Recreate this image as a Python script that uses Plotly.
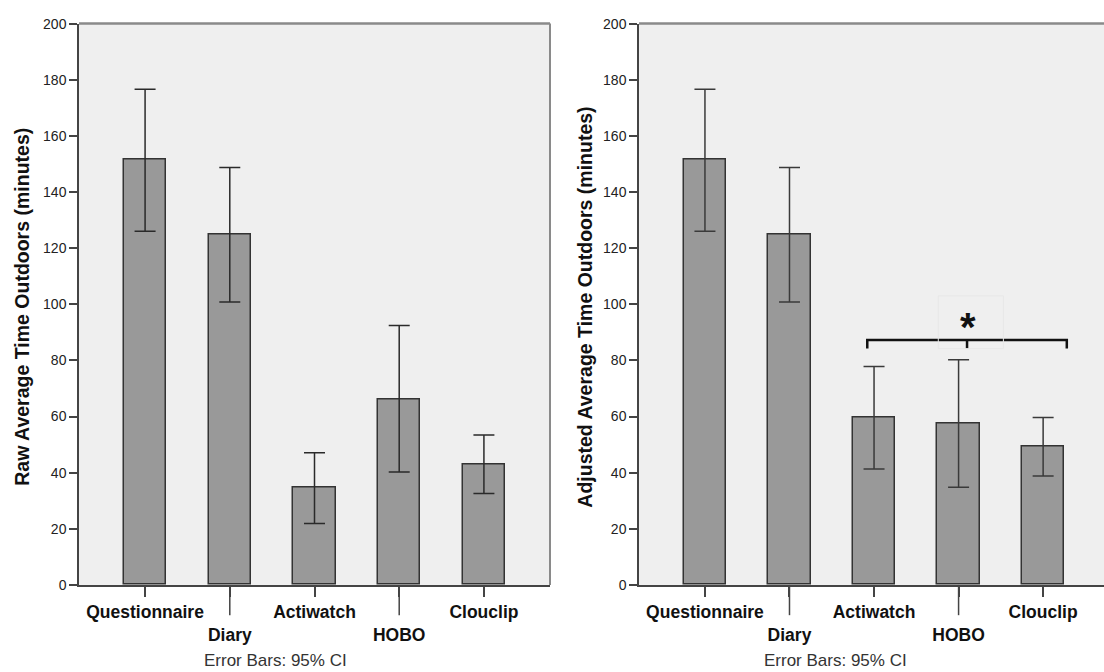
import plotly.graph_objects as go

# ---- data ----
categories = ["Questionnaire", "Diary", "Actiwatch", "HOBO", "Clouclip"]
tick_text = ["Questionnaire", "<br>Diary", "Actiwatch", "<br>HOBO", "Clouclip"]

raw_mean = [151.5, 124.8, 34.5, 66.2, 43.0]
raw_lo = [126.0, 100.8, 21.9, 40.2, 32.6]
raw_hi = [176.6, 148.7, 47.1, 92.4, 53.4]

adj_mean = [151.5, 124.8, 59.6, 57.5, 49.2]
adj_lo = [126.0, 100.8, 41.3, 34.8, 38.8]
adj_hi = [176.6, 148.7, 77.8, 80.2, 59.7]

y_ticks = [0, 20, 40, 60, 80, 100, 120, 140, 160, 180, 200]

left_title = "Raw Average Time Outdoors (minutes)"
right_title = "Adjusted Average Time Outdoors (minutes)"
footnote = "Error Bars: 95% CI"

# significance bracket (right panel), data units
bracket_x = [1.92, 3.10, 4.28]
bracket_y = 87.3
bracket_drop = 84.2

x_pos = list(range(len(categories)))

W, H = 1104, 672
FONT = "Liberation Sans"
BAR_FILL = "#999999"
BAR_LINE = "#333333"
AX_DARK = "#444444"
BORDER = "#8a8a8a"
BG = "#efefef"

fig = go.Figure()


def add_bars(mean, lo, hi, xa, ya, ecolor):
    fig.add_trace(go.Bar(
        x=x_pos, y=mean, xaxis=xa, yaxis=ya, width=0.5,
        marker=dict(color=BAR_FILL, line=dict(color=BAR_LINE, width=1.5)),
        error_y=dict(type="data", symmetric=False,
                     array=[h - m for h, m in zip(hi, mean)],
                     arrayminus=[m - l for m, l in zip(mean, lo)],
                     color=ecolor, thickness=1.5, width=10.5),
        showlegend=False, hoverinfo="skip"))


add_bars(raw_mean, raw_lo, raw_hi, "x", "y", "#2a2a2a")
add_bars(adj_mean, adj_lo, adj_hi, "x2", "y2", "#3a3a3a")

y_top = 1 - 16 / H
y_bot = 1 - 591 / H
tick_font = dict(family=FONT, size=14, color="#222222")
xlab_font = dict(family=FONT, size=17.5, color="#111111", weight="bold")

common_x = dict(tickmode="array", tickvals=x_pos, ticktext=tick_text,
                ticks="outside", ticklen=10, tickwidth=1.5, tickcolor=AX_DARK,
                showline=True, linecolor=AX_DARK, linewidth=2,
                showgrid=False, zeroline=False, tickfont=xlab_font,
                fixedrange=True)
common_y = dict(range=[0, 200], tickmode="array", tickvals=y_ticks,
                ticks="outside", ticklen=8, tickwidth=1.5, tickcolor=AX_DARK,
                showline=True, linecolor=AX_DARK, linewidth=1.5,
                showgrid=False, zeroline=False, tickfont=tick_font,
                fixedrange=True)

fig.update_layout(
    width=W, height=H,
    margin=dict(l=0, r=0, t=0, b=0),
    paper_bgcolor="white", plot_bgcolor=BG,
    bargap=0,
    xaxis=dict(domain=[79 / W, 550 / W], range=[-0.78, 4.78], anchor="y", **common_x),
    yaxis=dict(domain=[y_bot, y_top], anchor="x", **common_y),
    xaxis2=dict(domain=[639 / W, 1.0], range=[-0.78, 4.72], anchor="y2", **common_x),
    yaxis2=dict(domain=[y_bot, y_top], anchor="x2", **common_y),
)

shapes = []
# top / right frame lines (gray)
for xr, yr in (("x domain", "y domain"), ("x2 domain", "y2 domain")):
    shapes.append(dict(type="line", xref=xr, yref=yr, x0=0, x1=1, y0=1, y1=1,
                       line=dict(color=BORDER, width=2.5)))
shapes.append(dict(type="line", xref="x domain", yref="y domain", x0=1, x1=1, y0=0, y1=1,
                   line=dict(color=BORDER, width=2)))
# longer ticks for the staggered labels
for xr, yr in (("x", "y domain"), ("x2", "y2 domain")):
    for i in (1, 3):
        shapes.append(dict(type="line", xref=xr, yref=yr, x0=i, x1=i,
                           y0=0, y1=-31 / 575, line=dict(color=AX_DARK, width=1.5)))
# significance bracket
bx0, bxm, bx1 = bracket_x
shapes.append(dict(type="path", xref="x2", yref="y2",
                   path=f"M {bx0},{bracket_drop} L {bx0},{bracket_y} L {bx1},{bracket_y} L {bx1},{bracket_drop}",
                   line=dict(color="#111111", width=2.5)))
shapes.append(dict(type="line", xref="x2", yref="y2", x0=bxm, x1=bxm,
                   y0=bracket_y, y1=bracket_drop, line=dict(color="#111111", width=2.5)))
# faint box around the asterisk
shapes.append(dict(type="rect", xref="x2", yref="y2", x0=2.76, x1=3.53, y0=84.2, y1=103,
                   line=dict(color="#e7e7e7", width=1), fillcolor="rgba(0,0,0,0)"))
fig.update_layout(shapes=shapes)

ann = []
title_font = dict(family=FONT, size=19.5, color="#111111", weight="bold")
ann.append(dict(text=left_title, xref="paper", yref="paper", x=22 / W, y=1 - 306 / H,
                textangle=-90, showarrow=False, font=title_font,
                xanchor="center", yanchor="middle"))
ann.append(dict(text=right_title, xref="paper", yref="paper", x=585 / W, y=1 - 307 / H,
                textangle=-90, showarrow=False, font=title_font,
                xanchor="center", yanchor="middle"))
foot_font = dict(family=FONT, size=17, color="#333333")
ann.append(dict(text=footnote, xref="paper", yref="paper", x=275 / W, y=1 - 668 / H,
                showarrow=False, font=foot_font, xanchor="center", yanchor="middle"))
ann.append(dict(text=footnote, xref="paper", yref="paper", x=835 / W, y=1 - 668 / H,
                showarrow=False, font=foot_font, xanchor="center", yanchor="middle"))
ann.append(dict(text="*", xref="x2", yref="y2", x=3.11, y=91.8, showarrow=False,
                font=dict(family=FONT, size=40, color="#111111", weight="bold"),
                xanchor="center", yanchor="middle"))
fig.update_layout(annotations=ann)

fig.write_html("out.html")
